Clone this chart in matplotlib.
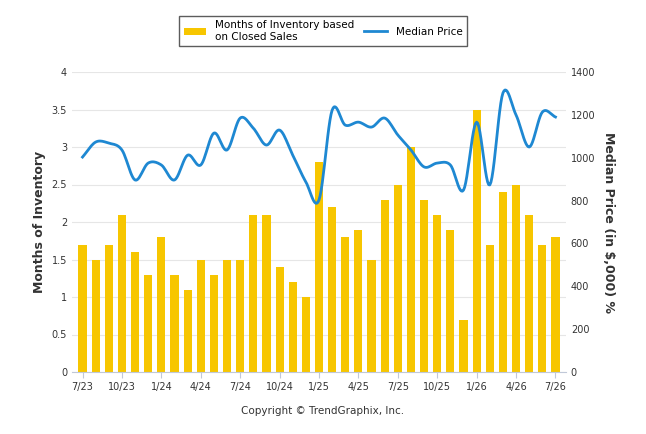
import numpy as np
import matplotlib.pyplot as plt

months = ['7/23', '8/23', '9/23', '10/23', '11/23', '12/23', '1/24', '2/24', '3/24', '4/24',
          '5/24', '6/24', '7/24', '8/24', '9/24', '10/24', '11/24', '12/24', '1/25', '2/25',
          '3/25', '4/25', '5/25', '6/25', '7/25', '8/25', '9/25', '10/25', '11/25', '12/25',
          '1/26', '2/26', '3/26', '4/26', '5/26', '6/26', '7/26']
inventory = [1.7, 1.5, 1.7, 2.1, 1.6, 1.3, 1.8, 1.3, 1.1, 1.5, 1.3, 1.5, 1.5, 2.1, 2.1, 1.4,
             1.2, 1.0, 2.8, 2.2, 1.8, 1.9, 1.5, 2.3, 2.5, 3.0, 2.3, 2.1, 1.9, 0.7, 3.5, 1.7,
             2.4, 2.5, 2.1, 1.7, 1.8]
median_price = [1003, 1073, 1068, 1036, 896, 975, 966, 896, 1012, 966, 1115, 1036, 1185, 1138,
                1059, 1129, 1012, 887, 803, 1222, 1152, 1166, 1143, 1185, 1106, 1036, 957, 975,
                966, 849, 1166, 873, 1302, 1199, 1050, 1213, 1190]

BAR = '#F7C600'
LINE = '#1E88D2'


def smooth(x, y, n=12):
    # cubic Hermite curve through the points
    x = np.asarray(x, float)
    y = np.asarray(y, float)
    m = np.gradient(y, x)
    xs, ys = [], []
    for i in range(len(x) - 1):
        t = np.linspace(0, 1, n, endpoint=False)
        h = x[i + 1] - x[i]
        h00 = 2 * t**3 - 3 * t**2 + 1
        h10 = t**3 - 2 * t**2 + t
        h01 = -2 * t**3 + 3 * t**2
        h11 = t**3 - t**2
        xs.extend(x[i] + t * h)
        ys.extend(h00 * y[i] + h10 * h * m[i] + h01 * y[i + 1] + h11 * h * m[i + 1])
    xs.append(x[-1])
    ys.append(y[-1])
    return xs, ys


fig = plt.figure(figsize=(6.46, 4.34), dpi=100)
ax = fig.add_axes([72 / 646, 62 / 434, 494 / 646, 300 / 434])
x = np.arange(len(months))
ax.bar(x, inventory, width=0.62, color=BAR, zorder=2, label='Months of Inventory based\non Closed Sales')
ax.set_ylim(0, 4)
ax.set_xlim(-0.8, len(months) - 0.2)
ax.set_yticks(np.arange(0, 4.01, 0.5))
ax.set_yticklabels(['0', '0.5', '1', '1.5', '2', '2.5', '3', '3.5', '4'])
ax.grid(axis='y', color='#e6e6e6', lw=0.8, zorder=0)
ax.set_xticks(x[::3])
ax.set_xticklabels(months[::3])
ax.set_ylabel('Months of Inventory', fontsize=9, fontweight='bold', color='#333333')
for s in ['top', 'right', 'left']:
    ax.spines[s].set_visible(False)
ax.spines['bottom'].set_color('#c0c8d8')
ax.tick_params(axis='both', labelsize=7, colors='#333333', length=0)
ax.tick_params(axis='x', length=4, color='#c0c8d8')

ax2 = ax.twinx()
sx, sy = smooth(x, median_price)
ax2.plot(sx, sy, color=LINE, lw=2, zorder=3, label='Median Price')
ax2.set_ylim(0, 1400)
ax2.set_yticks(np.arange(0, 1401, 200))
for s in ['top', 'right', 'left', 'bottom']:
    ax2.spines[s].set_visible(False)
ax2.tick_params(axis='y', labelsize=7, colors='#333333', length=0)
ax2.set_ylabel('Median Price (in $,000) %', fontsize=9, fontweight='bold', color='#333333',
               rotation=270, labelpad=14)

h1, l1 = ax.get_legend_handles_labels()
h2, l2 = ax2.get_legend_handles_labels()
fig.legend(h1 + h2, l1 + l2, loc='upper center', bbox_to_anchor=(0.5, 0.975), ncol=2,
           fontsize=7.5, frameon=True, fancybox=False, edgecolor='#333333', handlelength=2.2,
           columnspacing=1.0, borderpad=0.4)

fig.text(0.5, 0.045, 'Copyright © TrendGraphix, Inc.', ha='center', fontsize=7.5, color='#333333')
fig.savefig('out.png', dpi=100)
